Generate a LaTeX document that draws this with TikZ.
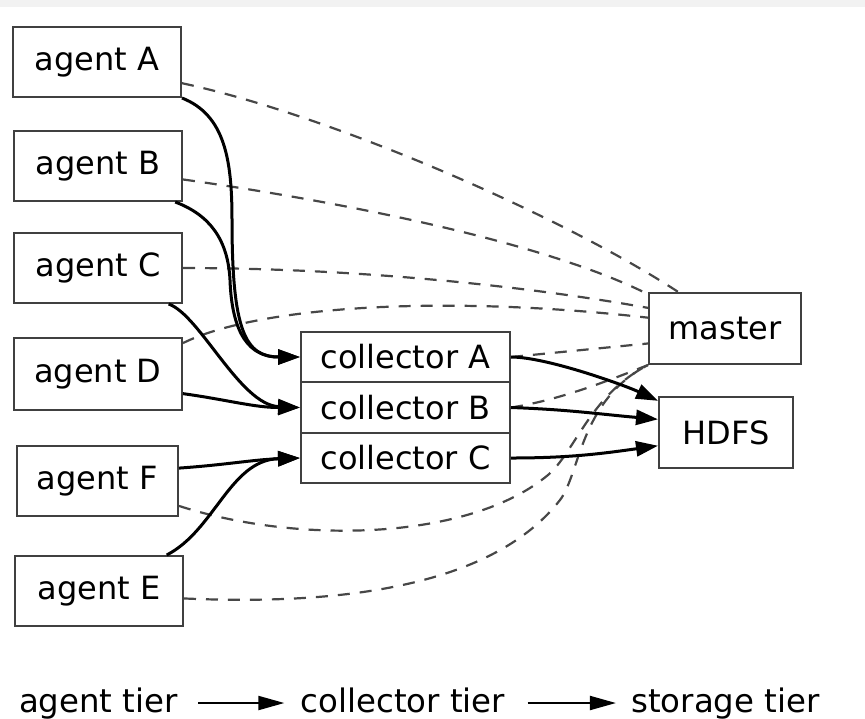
\documentclass[tikz,border=0pt]{standalone}
\usepackage{fontspec}
\setmainfont{DejaVu Sans}
\usetikzlibrary{arrows.meta}
\begin{document}
\begin{tikzpicture}[x=0.5pt,y=-0.5pt,
  box/.style={draw=black!75, line width=1pt, fill=white, inner sep=0pt,
    minimum width=84pt, minimum height=35pt, font=\fontsize{16pt}{19pt}\selectfont},
  cbox/.style={box, minimum width=104.5pt, minimum height=25.3pt},
  flow/.style={line width=1.5pt, -{Triangle[length=11pt,width=7.5pt]}},
  ctrl/.style={draw=black!72, line width=1.1pt, dash pattern=on 6pt off 5pt},
  tier/.style={inner sep=0pt, text height=12pt, text depth=3pt,
    font=\fontsize{16.2pt}{19pt}\selectfont},
  tierarrow/.style={line width=1pt, -{Triangle[length=13pt,width=7pt]}}
]
\useasboundingbox (0,0) rectangle (865,718);
\fill[black!5] (0,0) rectangle (865,7);

% agent tier
\node[box] (agentA) at (97,62)  {agent A};
\node[box] (agentB) at (98,166) {agent B};
\node[box] (agentC) at (98,268) {agent C};
\node[box, minimum height=36pt] (agentD) at (98,374) {agent D};
\node[box, minimum width=80.5pt] (agentF) at (97.5,481) {agent F};
\node[box] (agentE) at (99,591) {agent E};

% collector tier
\node[cbox] (collA) at (405.5,357)   {collector A};
\node[cbox] (collB) at (405.5,407.5) {collector B};
\node[cbox] (collC) at (405.5,458)   {collector C};

% storage tier and master
\node[box, minimum width=76pt, minimum height=35.5pt] (master) at (725,328.5) {master};
\node[box, minimum width=67pt, minimum height=35.5pt] (hdfs) at (726,432.5) {HDFS};

% control links to the master
\draw[ctrl] (agentA.-14) .. controls (330,115) and (560,215) .. (master.142);
\draw[ctrl] (agentB.-9) .. controls (330,200) and (540,240) .. (master.156);
\draw[ctrl] (agentC.east) .. controls (350,268) and (520,285) .. (master.165);
\draw[ctrl] (agentD.20) .. controls (260,305) and (450,295) .. (master.172);
\draw[ctrl] (collA.east) -- (master.191);
\draw[ctrl] (collB.east) .. controls (560,400) and (610,380) .. (master.south west);
\draw[ctrl] (agentF.-17) .. controls (300,545) and (470,540) .. (548,475)
  .. controls (575,452) and (590,395) .. (master.south west);
\draw[ctrl] (agentE.-5) .. controls (330,605) and (490,590) .. (560,500)
  .. controls (580,474) and (580,400) .. (master.south west);

% data flow: agents to collectors
\draw[flow] (agentA.south east) .. controls (225,115) and (232,160) .. (232,220)
  .. controls (232,330) and (245,357) .. (collA.west);
\draw[flow] (agentB.-25) .. controls (210,215) and (228,240) .. (230,280)
  .. controls (232,335) and (250,357) .. (collA.west);
\draw[flow] (agentC.-27) .. controls (200,315) and (240,405) .. (collB.west);
\draw[flow] (agentD.-13) to[out=-8, in=180] (collB.west);
\draw[flow] (agentF.9) to[out=4, in=182] (collC.west);
\draw[flow] (agentE.28) .. controls (215,530) and (230,460) .. (collC.west);

% data flow: collectors to HDFS
\draw[flow] (collA.east) to[out=0, in=155, looseness=0.6] (hdfs.155);
\draw[flow] (collB.east) to[out=-2, in=175] (hdfs.169);
\draw[flow] (collC.east) to[out=0, in=188] (hdfs.191);

% tier legend
\node[tier] (t1) at (98.5,703) {agent tier};
\node[tier] (t2) at (403,703) {collector tier};
\node[tier] (t3) at (725.5,703) {storage tier};
\draw[tierarrow, shorten <=10pt, shorten >=8pt] (t1.east) -- (t2.west);
\draw[tierarrow, shorten <=11pt, shorten >=7.5pt] (t2.east) -- (t3.west);
\end{tikzpicture}
\end{document}
